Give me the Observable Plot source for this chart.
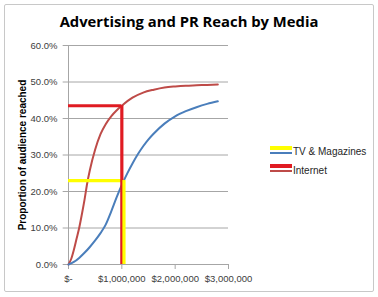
<!DOCTYPE html>
<html>
<head>
<meta charset="utf-8">
<script src="https://cdn.jsdelivr.net/npm/d3@7"></script>
<script src="https://cdn.jsdelivr.net/npm/@observablehq/plot@0.6"></script>
<style>
  html, body { margin: 0; padding: 0; background: #fff; }
  #chart { position: relative; width: 378px; height: 297px; overflow: hidden; font-family: "Liberation Sans", Arial, sans-serif; }
  #frame { position: absolute; left: 4px; top: 4px; width: 368px; height: 286px; border: 1.5px solid #c8c8c8; border-radius: 2px; }
  #title { position: absolute; left: 0; width: 378px; top: 11px; text-align: center; font-size: 14.8px; font-weight: bold; color: #000; font-family: "Open Sans", "Liberation Sans", sans-serif; }
  #plot { position: absolute; left: 0; top: 0; }
  #ylabel { position: absolute; left: 22px; top: 155px; transform: translate(-50%, -50%) rotate(-90deg); white-space: nowrap; font-size: 10px; font-weight: bold; color: #000; }
  .leg { position: absolute; left: 270px; font-size: 10px; color: #262626; }
  .leg .sw { position: absolute; left: 0; width: 22px; }
  .leg .lbl { position: absolute; left: 23px; white-space: nowrap; }
</style>
</head>
<body>
<div id="chart">
  <div id="frame"></div>
  <div id="title">Advertising and PR Reach by Media</div>
  <div id="plot"></div>
  <div id="ylabel">Proportion of audience reached</div>
  <div class="leg" style="top:146px">
    <div class="sw" style="top:0px;height:3.5px;background:#ffff00"></div>
    <div class="sw" style="top:6px;height:2px;background:#4a7ebb"></div>
    <div class="lbl" style="top:0px">TV &amp; Magazines</div>
  </div>
  <div class="leg" style="top:164px">
    <div class="sw" style="top:0px;height:3.5px;background:#e01b22"></div>
    <div class="sw" style="top:6px;height:2px;background:#be4b48"></div>
    <div class="lbl" style="top:1px">Internet</div>
  </div>
</div>
<script>
// Spend ($) and reach (proportion)
const tvSpend = [0, 100000, 200000, 300000, 400000, 500000, 600000, 700000, 800000, 900000, 1000000, 1100000, 1200000, 1300000, 1400000, 1500000, 1600000, 1800000, 2000000, 2200000, 2400000, 2600000, 2800000];
const tvReach = [0, 0.007, 0.018, 0.032, 0.048, 0.066, 0.086, 0.110, 0.145, 0.183, 0.218, 0.249, 0.277, 0.302, 0.324, 0.343, 0.359, 0.386, 0.406, 0.420, 0.431, 0.440, 0.447];

const netSpend = [0, 50000, 100000, 150000, 200000, 250000, 300000, 350000, 400000, 500000, 600000, 700000, 800000, 900000, 1000000, 1200000, 1400000, 1600000, 1800000, 2000000, 2200000, 2400000, 2600000, 2800000];
const netReach = [0, 0.015, 0.04, 0.07, 0.10, 0.137, 0.177, 0.222, 0.258, 0.315, 0.357, 0.385, 0.406, 0.422, 0.435, 0.457, 0.471, 0.479, 0.485, 0.488, 0.490, 0.491, 0.492, 0.493];

// Highlighted reading points
const targetMedia = ["Internet", "TV & Magazines"];
const targetSpend = [1000000, 1040000];
const targetReach = [0.435, 0.23];
const targetColor = ["#e01b22", "#ffff00"];

const yTicks = [0, 0.1, 0.2, 0.3, 0.4, 0.5, 0.6];
const xTicks = [0, 1000000, 2000000, 3000000];
const xTickLabels = ["$-", "$1,000,000", "$2,000,000", "$3,000,000"];

const tv = tvSpend.map((s, i) => ({spend: s, reach: tvReach[i]}));
const net = netSpend.map((s, i) => ({spend: s, reach: netReach[i]}));
const targets = targetMedia.map((m, i) => ({media: m, spend: targetSpend[i], reach: targetReach[i], color: targetColor[i]}));

const plot = Plot.plot({
  width: 378,
  height: 297,
  marginLeft: 68,
  marginRight: 150,
  marginTop: 45,
  marginBottom: 33,
  style: {fontFamily: "'Liberation Sans', Arial, sans-serif", fontSize: "9.5px", color: "#404040", background: "transparent"},
  x: {domain: [0, 3000000]},
  y: {domain: [0, 0.6]},
  marks: [
    Plot.ruleY(yTicks, {stroke: "#a6a6a6", strokeWidth: 1, x1: -100000, x2: 3000000, clip: false}),
    Plot.ruleX([0], {stroke: "#a6a6a6", strokeWidth: 1}),
    Plot.axisY({ticks: yTicks, tickFormat: d3.format(".1%"), tickSize: 0, tickPadding: 11, fill: "#404040", label: null}),
    Plot.axisX({ticks: xTicks, tickFormat: (d, i) => xTickLabels[i], tickSize: 5, tickPadding: 6, stroke: "#a6a6a6", fill: "#404040", label: null}),
    Plot.line(net, {x: "spend", y: "reach", stroke: "#be4b48", strokeWidth: 2, curve: "monotone-x"}),
    Plot.line(tv, {x: "spend", y: "reach", stroke: "#4a7ebb", strokeWidth: 2, curve: "monotone-x"}),
    Plot.ruleY(targets, {y: "reach", x1: 0, x2: "spend", stroke: "color", strokeWidth: 3.2}),
    Plot.ruleX(targets, {x: "spend", y1: 0, y2: "reach", stroke: "color", strokeWidth: 3.2})
  ]
});
document.getElementById("plot").appendChild(plot);
</script>
</body>
</html>
